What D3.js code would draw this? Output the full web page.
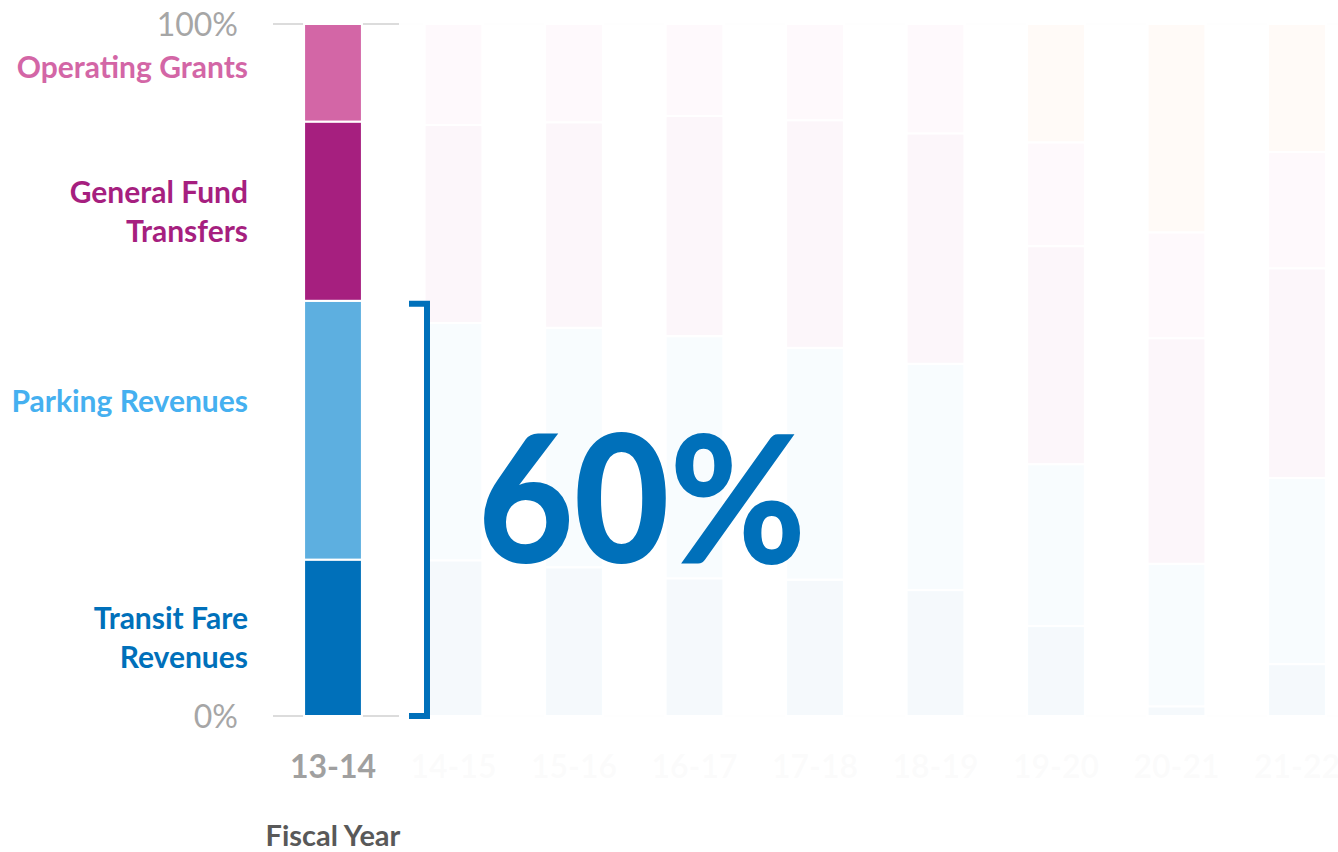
<!DOCTYPE html>
<html>
<head>
<meta charset="utf-8">
<script src="https://cdn.jsdelivr.net/npm/d3@7"></script>
<style>
  html, body { margin: 0; padding: 0; background: #ffffff; }
  svg { display: block; }
  text { font-family: Lato, "Open Sans", sans-serif; }
</style>
</head>
<body>
<svg id="chart" width="1338" height="852"></svg>
<script>
// ---- Data (percent share of operating revenue by fiscal year) ----
const fiscalYears = ["13-14", "14-15", "15-16", "16-17", "17-18", "18-19", "19-20", "20-21", "21-22"];
const seriesNames = ["Transit Fare Revenues", "Parking Revenues", "General Fund Transfers", "Operating Grants", "Federal Relief Funds"];
const transitFare     = [22.6, 22.5, 21.5, 19.9, 19.7, 18.2, 13.0,  1.4,  7.5];
const parking         = [37.4, 34.3, 34.6, 35.0, 33.5, 32.7, 23.4, 20.6, 26.9];
const generalFund     = [25.9, 28.6, 29.7, 31.8, 32.9, 33.3, 31.5, 32.6, 30.3];
const operatingGrants = [14.1, 14.6, 14.2, 13.3, 13.9, 15.8, 15.0, 15.3, 16.8];
const federalRelief   = [ 0.0,  0.0,  0.0,  0.0,  0.0,  0.0, 17.1, 30.1, 18.5];
const yTicks = [0, 100];
const highlightShare = 60;

// ---- Styles ----
const seriesColors = ["#0070BA", "#5DAFE0", "#A61F7F", "#D366A6", "#ED7D31"];

const rows = fiscalYears.map((fy, i) => ({
  fy,
  "Transit Fare Revenues": transitFare[i],
  "Parking Revenues": parking[i],
  "General Fund Transfers": generalFund[i],
  "Operating Grants": operatingGrants[i],
  "Federal Relief Funds": federalRelief[i]
}));

const svg = d3.select("#chart");

const x = d3.scaleBand()
  .domain(fiscalYears)
  .range([272.75, 1357.25])
  .paddingInner(0.52)
  .paddingOuter(0.26);

const y = d3.scaleLinear().domain([0, 100]).range([716, 24]);
const color = d3.scaleOrdinal().domain(seriesNames).range(seriesColors);

// gridlines at 0% and 100%
svg.append("g").selectAll("line")
  .data(yTicks)
  .join("line")
  .attr("x1", 273).attr("x2", 1338)
  .attr("y1", d => y(d)).attr("y2", d => y(d))
  .attr("stroke", "#DCDCDC").attr("stroke-width", 2);

// tick labels
svg.append("g").selectAll("text")
  .data(yTicks)
  .join("text")
  .attr("x", 238)
  .attr("y", d => y(d) + 12)
  .attr("text-anchor", "end")
  .attr("font-size", 32)
  .attr("fill", "#A6A6A6")
  .text(d => d + "%");

// stacked bars
const stacked = d3.stack().keys(seriesNames)(rows);
svg.append("g").selectAll("g")
  .data(stacked)
  .join("g")
  .attr("fill", d => color(d.key))
  .selectAll("rect")
  .data(d => d.filter(s => s[1] - s[0] > 0))
  .join("rect")
  .attr("x", d => x(d.data.fy))
  .attr("width", x.bandwidth())
  .attr("y", d => y(d[1]))
  .attr("height", d => y(d[0]) - y(d[1]))
  .attr("stroke", "#ffffff")
  .attr("stroke-width", 2);

// x axis labels
svg.append("g").selectAll("text")
  .data(fiscalYears)
  .join("text")
  .attr("x", d => x(d) + x.bandwidth() / 2)
  .attr("y", 778)
  .attr("text-anchor", "middle")
  .attr("font-size", 32)
  .attr("font-weight", 700)
  .attr("fill", "#A0A0A0")
  .text(d => d);

// fade everything except the first year
svg.append("rect")
  .attr("x", 399).attr("y", 0)
  .attr("width", 1338 - 399).attr("height", 852)
  .attr("fill", "#ffffff")
  .attr("opacity", 0.96);

// axis title
svg.append("text")
  .attr("x", 333).attr("y", 846)
  .attr("text-anchor", "middle")
  .attr("font-size", 29)
  .attr("font-weight", 700)
  .attr("fill", "#595959")
  .text("Fiscal Year");

// series labels at left
const seriesLabels = [
  { lines: ["Operating Grants"], y: 78, fill: "#D366A6" },
  { lines: ["General Fund", "Transfers"], y: 203, fill: "#A61F7F" },
  { lines: ["Parking Revenues"], y: 412, fill: "#45B0F0" },
  { lines: ["Transit Fare", "Revenues"], y: 629, fill: "#0070BA" }
];
const lbl = svg.append("g").selectAll("text")
  .data(seriesLabels)
  .join("text")
  .attr("text-anchor", "end")
  .attr("font-size", 30)
  .attr("font-weight", 700)
  .attr("fill", d => d.fill)
  .attr("y", d => d.y);
lbl.selectAll("tspan")
  .data(d => d.lines)
  .join("tspan")
  .attr("x", 248)
  .attr("dy", (d, i) => i === 0 ? 0 : 39)
  .text(d => d);

// bracket for highlighted share
svg.append("path")
  .attr("d", `M409,${y(highlightShare) + 3}H427V${y(0)}H409`)
  .attr("fill", "none")
  .attr("stroke", "#0070BA")
  .attr("stroke-width", 6)
  .attr("stroke-linejoin", "miter");

svg.append("text")
  .attr("x", 478).attr("y", 563)
  .attr("font-size", 177)
  .attr("font-weight", 900)
  .attr("fill", "#0070BA")
  .attr("textLength", 328)
  .attr("lengthAdjust", "spacingAndGlyphs")
  .text(highlightShare + "%");
</script>
</body>
</html>
